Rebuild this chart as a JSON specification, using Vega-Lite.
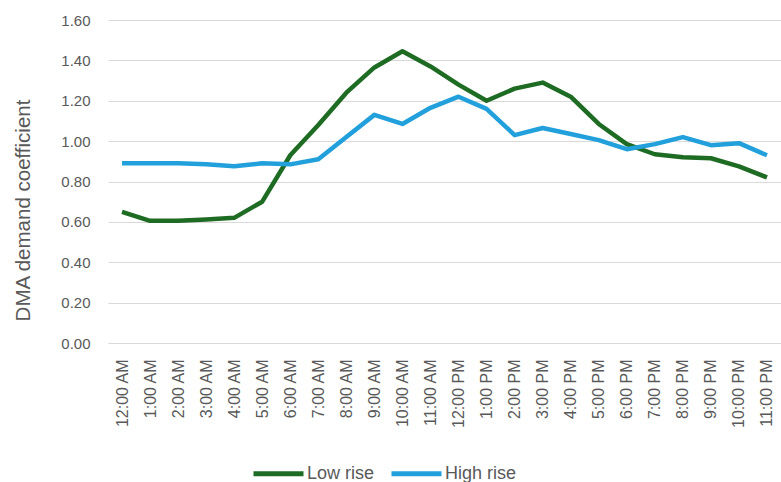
{
  "$schema": "https://vega.github.io/schema/vega-lite/v6.json",
  "autosize": "none",
  "width": 673,
  "height": 323,
  "padding": {"left": 108, "top": 20, "right": 0, "bottom": 139},
  "background": "white",
  "config": {"view": {"stroke": null}, "font": "Liberation Sans"},
  "data": {"values": [
    {"time": "12:00 AM", "series": "Low rise", "v": 0.65},
    {"time": "1:00 AM", "series": "Low rise", "v": 0.605},
    {"time": "2:00 AM", "series": "Low rise", "v": 0.605},
    {"time": "3:00 AM", "series": "Low rise", "v": 0.612},
    {"time": "4:00 AM", "series": "Low rise", "v": 0.62},
    {"time": "5:00 AM", "series": "Low rise", "v": 0.70},
    {"time": "6:00 AM", "series": "Low rise", "v": 0.93},
    {"time": "7:00 AM", "series": "Low rise", "v": 1.08},
    {"time": "8:00 AM", "series": "Low rise", "v": 1.24},
    {"time": "9:00 AM", "series": "Low rise", "v": 1.365},
    {"time": "10:00 AM", "series": "Low rise", "v": 1.445},
    {"time": "11:00 AM", "series": "Low rise", "v": 1.37},
    {"time": "12:00 PM", "series": "Low rise", "v": 1.28},
    {"time": "1:00 PM", "series": "Low rise", "v": 1.20},
    {"time": "2:00 PM", "series": "Low rise", "v": 1.26},
    {"time": "3:00 PM", "series": "Low rise", "v": 1.29},
    {"time": "4:00 PM", "series": "Low rise", "v": 1.22},
    {"time": "5:00 PM", "series": "Low rise", "v": 1.085},
    {"time": "6:00 PM", "series": "Low rise", "v": 0.985},
    {"time": "7:00 PM", "series": "Low rise", "v": 0.935},
    {"time": "8:00 PM", "series": "Low rise", "v": 0.92},
    {"time": "9:00 PM", "series": "Low rise", "v": 0.915},
    {"time": "10:00 PM", "series": "Low rise", "v": 0.875},
    {"time": "11:00 PM", "series": "Low rise", "v": 0.82},
    {"time": "12:00 AM", "series": "High rise", "v": 0.89},
    {"time": "1:00 AM", "series": "High rise", "v": 0.89},
    {"time": "2:00 AM", "series": "High rise", "v": 0.89},
    {"time": "3:00 AM", "series": "High rise", "v": 0.885},
    {"time": "4:00 AM", "series": "High rise", "v": 0.875},
    {"time": "5:00 AM", "series": "High rise", "v": 0.89},
    {"time": "6:00 AM", "series": "High rise", "v": 0.885},
    {"time": "7:00 AM", "series": "High rise", "v": 0.91},
    {"time": "8:00 AM", "series": "High rise", "v": 1.02},
    {"time": "9:00 AM", "series": "High rise", "v": 1.13},
    {"time": "10:00 AM", "series": "High rise", "v": 1.085},
    {"time": "11:00 AM", "series": "High rise", "v": 1.165},
    {"time": "12:00 PM", "series": "High rise", "v": 1.22},
    {"time": "1:00 PM", "series": "High rise", "v": 1.16},
    {"time": "2:00 PM", "series": "High rise", "v": 1.03},
    {"time": "3:00 PM", "series": "High rise", "v": 1.065},
    {"time": "4:00 PM", "series": "High rise", "v": 1.035},
    {"time": "5:00 PM", "series": "High rise", "v": 1.005},
    {"time": "6:00 PM", "series": "High rise", "v": 0.96},
    {"time": "7:00 PM", "series": "High rise", "v": 0.985},
    {"time": "8:00 PM", "series": "High rise", "v": 1.02},
    {"time": "9:00 PM", "series": "High rise", "v": 0.98},
    {"time": "10:00 PM", "series": "High rise", "v": 0.99},
    {"time": "11:00 PM", "series": "High rise", "v": 0.93}
  ]},
  "mark": {"type": "line", "strokeWidth": 4.5, "strokeJoin": "round"},
  "encoding": {
    "x": {
      "field": "time", "type": "ordinal", "sort": null,
      "axis": {
        "title": null, "labelAngle": -90, "labelAlign": "right", "labelBaseline": "middle",
        "labelPadding": 16, "labelFontSize": 16, "labelColor": "#595959",
        "domain": false, "ticks": false, "grid": false
      }
    },
    "y": {
      "field": "v", "type": "quantitative",
      "scale": {"domain": [0, 1.6], "nice": false},
      "axis": {
        "title": "DMA demand coefficient", "titleFontSize": 20.5, "titleFontWeight": "normal",
        "titleColor": "#595959", "titlePadding": 27, "titleY": 190,
        "values": [0, 0.2, 0.4, 0.6, 0.8, 1.0, 1.2, 1.4, 1.6], "format": ".2f",
        "labelFontSize": 15, "labelColor": "#595959", "labelPadding": 18,
        "domain": false, "ticks": false, "gridColor": "#d9d9d9", "gridWidth": 1.2
      }
    },
    "color": {
      "field": "series", "type": "nominal",
      "scale": {"domain": ["Low rise", "High rise"], "range": ["#1e6b23", "#22a0dc"]},
      "legend": {
        "title": null, "orient": "none", "legendX": 143, "legendY": 426,
        "direction": "horizontal", "symbolType": "stroke", "symbolSize": 2500,
        "symbolStrokeWidth": 5, "labelFont": "Liberation Sans", "labelFontSize": 18,
        "labelColor": "#595959", "labelOffset": 1, "columnPadding": 6
      }
    }
  }
}
